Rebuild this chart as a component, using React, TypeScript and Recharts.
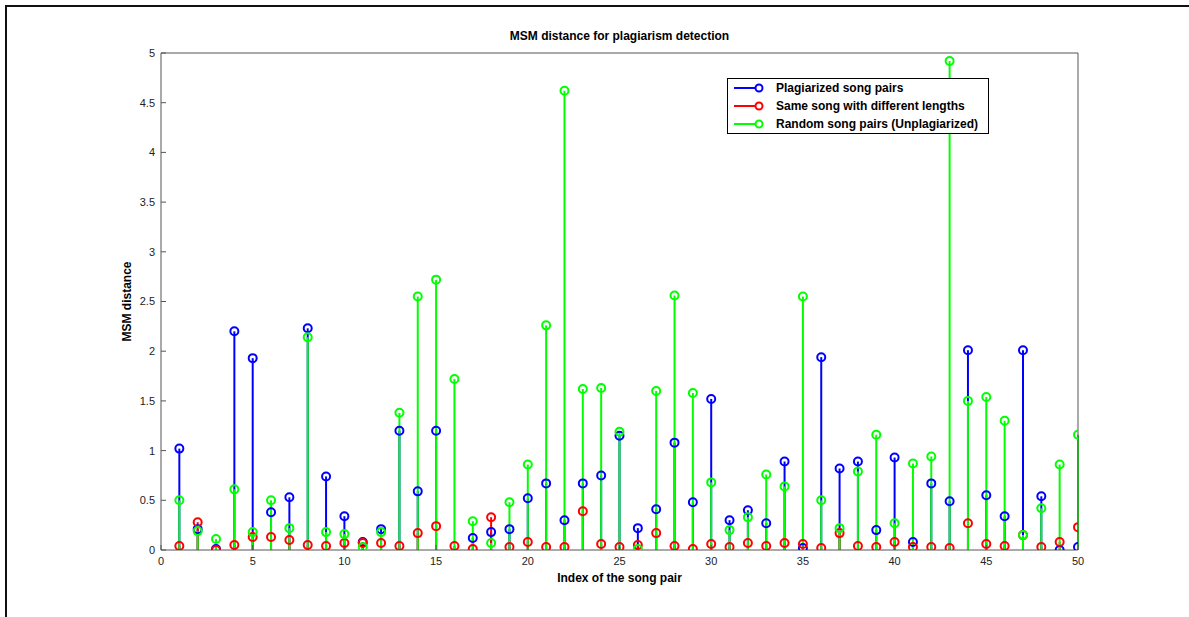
import {
  ComposedChart,
  Scatter,
  ErrorBar,
  XAxis,
  YAxis,
  Label
} from 'recharts';

// song pair index 1..50
const pairIndex = Array.from({ length: 50 }, (_, i) => i + 1);

const plagiarized = [
  1.02, 0.21, 0.01, 2.2, 1.93, 0.38, 0.53, 2.23, 0.74, 0.34,
  0.08, 0.21, 1.2, 0.59, 1.2, null, 0.12, 0.18, 0.21, 0.52,
  0.67, 0.3, 0.67, 0.75, 1.15, 0.22, 0.41, 1.08, 0.48, 1.52,
  0.3, 0.4, 0.27, 0.89, 0.02, 1.94, 0.82, 0.89, 0.2, 0.93,
  0.08, 0.67, 0.49, 2.01, 0.55, 0.34, 2.01, 0.54, 0.0, 0.03
];

const sameSong = [
  0.04, 0.28, 0.0, 0.05, 0.13, 0.13, 0.1, 0.05, 0.04, 0.07,
  0.07, 0.07, 0.04, 0.17, 0.24, 0.04, 0.01, 0.33, 0.03, 0.08,
  0.03, 0.03, 0.39, 0.06, 0.03, 0.05, 0.17, 0.04, 0.01, 0.06,
  0.03, 0.07, 0.04, 0.07, 0.06, 0.02, 0.17, 0.04, 0.03, 0.08,
  0.03, 0.03, 0.02, 0.27, 0.06, 0.04, 0.15, 0.03, 0.08, 0.23
];

const randomPairs = [
  0.5, 0.19, 0.11, 0.61, 0.18, 0.5, 0.22, 2.14, 0.18, 0.16,
  0.03, 0.18, 1.38, 2.55, 2.72, 1.72, 0.29, 0.07, 0.48, 0.86,
  2.26, 4.62, 1.62, 1.63, 1.19, 0.01, 1.6, 2.56, 1.58, 0.68,
  0.2, 0.33, 0.76, 0.64, 2.55, 0.5, 0.22, 0.79, 1.16, 0.27,
  0.87, 0.94, 4.92, 1.5, 1.54, 1.3, 0.15, 0.42, 0.86, 1.16
];

const xTicks = [0, 5, 10, 15, 20, 25, 30, 35, 40, 45, 50];
const yTicks = [0, 0.5, 1, 1.5, 2, 2.5, 3, 3.5, 4, 4.5, 5];

const seriesInfo = [
  { name: 'Plagiarized song pairs', color: '#0000ff', values: plagiarized },
  { name: 'Same song with different lengths', color: '#ff0000', values: sameSong },
  { name: 'Random song pairs (Unplagiarized)', color: '#00ff00', values: randomPairs }
];

const toPoints = (values: (number | null)[]) =>
  pairIndex
    .map((x, i) => ({ x, y: values[i], stem: [values[i], 0] }))
    .filter((d) => d.y !== null);

const FONT = 'Arial, "Liberation Sans", Helvetica, sans-serif';

const Ring = (color: string) => (props: any) => {
  const { cx, cy } = props;
  if (cx == null || cy == null) return null;
  return <circle cx={cx} cy={cy} r={4} fill="none" stroke={color} strokeWidth={2} />;
};

const LegendBox = () => (
  <div
    style={{
      position: 'absolute',
      left: 727,
      top: 78,
      width: 262,
      height: 56,
      border: '1px solid #000',
      background: '#fff',
      padding: '0 6px',
      fontFamily: FONT,
      fontSize: 12,
      fontWeight: 'bold',
      boxSizing: 'border-box',
      whiteSpace: 'nowrap'
    }}
  >
    {seriesInfo.map((s) => (
      <div key={s.name} style={{ display: 'flex', alignItems: 'center', height: 18 }}>
        <svg width={34} height={12} style={{ marginRight: 8, flex: 'none' }}>
          <line x1={0} y1={6} x2={24} y2={6} stroke={s.color} strokeWidth={2} />
          <circle cx={25} cy={6} r={3.5} fill="#fff" stroke={s.color} strokeWidth={2} />
        </svg>
        <span>{s.name}</span>
      </div>
    ))}
  </div>
);

export default function App() {
  const tickStyle = { fontSize: 11, fill: '#222', fontFamily: FONT };

  return (
    <div
      style={{
        position: 'absolute',
        left: 0,
        top: 0,
        width: 1189,
        height: 617,
        background: '#fff'
      }}
    >
      <div
        style={{
          position: 'absolute',
          left: 5,
          top: 5,
          right: 0,
          bottom: 0,
          borderTop: '2px solid #111',
          borderLeft: '2px solid #111'
        }}
      />
      <ComposedChart
        width={1189}
        height={617}
        margin={{ top: 48, right: 106, left: 101, bottom: 37 }}
        style={{ position: 'absolute', left: 0, top: 0 }}
      >
        <XAxis
          xAxisId="bottom"
          dataKey="x"
          type="number"
          domain={[0, 50]}
          ticks={xTicks}
          allowDataOverflow
          height={30}
          stroke="#555"
          tick={tickStyle}
          tickSize={-5}
          tickMargin={12}
        >
          <Label
            value="Index of the song pair"
            position="insideBottom"
            offset={-2}
            style={{ fontSize: 12, fontWeight: 'bold', fill: '#000', fontFamily: FONT }}
          />
        </XAxis>
        <XAxis
          xAxisId="top"
          orientation="top"
          type="number"
          domain={[0, 50]}
          ticks={xTicks}
          height={5}
          stroke="#555"
          tickSize={-5}
          tickFormatter={() => ''}
        >
          <Label
            value="MSM distance for plagiarism detection"
            position="top"
            offset={8}
            style={{ fontSize: 12, fontWeight: 'bold', fill: '#000', fontFamily: FONT }}
          />
        </XAxis>
        <YAxis
          yAxisId="left"
          type="number"
          domain={[0, 5]}
          ticks={yTicks}
          allowDataOverflow
          width={60}
          stroke="#555"
          tick={tickStyle}
          tickSize={-5}
          tickMargin={11}
        >
          <Label
            value="MSM distance"
            angle={-90}
            position="insideLeft"
            offset={26}
            style={{ fontSize: 12, fontWeight: 'bold', fill: '#000', fontFamily: FONT, textAnchor: 'middle' }}
          />
        </YAxis>
        <YAxis
          yAxisId="right"
          orientation="right"
          type="number"
          domain={[0, 5]}
          ticks={yTicks}
          width={5}
          stroke="#555"
          tickSize={-5}
          tickFormatter={() => ''}
        />
        {seriesInfo.map((s) => (
          <Scatter
            key={s.name}
            name={s.name}
            data={toPoints(s.values)}
            xAxisId="bottom"
            yAxisId="left"
            dataKey="y"
            shape={Ring(s.color)}
            isAnimationActive={false}
          >
            <ErrorBar
              dataKey="stem"
              direction="y"
              width={0}
              stroke={s.color}
              strokeWidth={2}
              isAnimationActive={false}
            />
          </Scatter>
        ))}
      </ComposedChart>
      <LegendBox />
    </div>
  );
}
